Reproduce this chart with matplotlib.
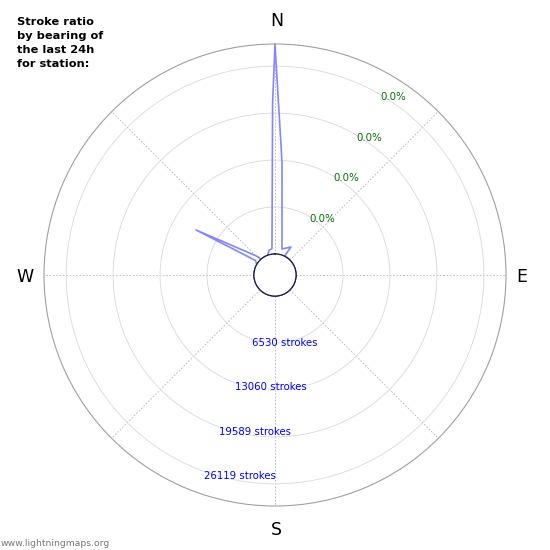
import numpy as np
import matplotlib.pyplot as plt

W = H = 550

# outline of the stroke ratio polygon, in drawing order
bearings = [40, 50, 60, 70, 80, 90, 100, 110, 120, 130, 140, 150, 160, 170,
            180, 190, 200, 210, 220, 230, 240, 250, 260, 270, 280, 290, 300,
            306.6, 299.7, 316.6, 319, 330, 340, 346.2, 353.5, 359.2,
            0, 3.6, 15.1, 29.7, 27]
strokes = [0, 0, 0, 0, 0, 0, 0, 0, 0, 0, 0, 0, 0, 0,
           0, 0, 0, 0, 0, 0, 0, 0, 0, 0, 0, 0, 0,
           460, 9720, 620, 0, 0, 0, 590, 790, 21000,
           29150, 12680, 820, 1560, 100]

r_max = 29200
ring_strokes = [6530, 13060, 19589, 26119]
ring_pct = ['0.0%', '0.0%', '0.0%', '0.0%']

title_lines = ['Stroke ratio', 'by bearing of', 'the last 24h', 'for station:']
compass = ['N', 'E', 'S', 'W']


def px(x, y):
    return x / W, 1 - y / H


fig = plt.figure(figsize=(W / 100, H / 100), dpi=100)
ax = fig.add_axes([0.08, 0.08, 0.84, 0.84], projection='polar')
ax.set_theta_zero_location('N')
ax.set_theta_direction(-1)
ax.set_ylim(0, r_max)
ax.set_rorigin(-0.1 * r_max)

# polygon outline
theta = np.deg2rad(bearings + bearings[:1])
vals = strokes + strokes[:1]
ax.plot(theta, vals, color='#8585ff', lw=1.2, zorder=2)

# inner circle
tc = np.linspace(0, 2 * np.pi, 361)
ax.plot(tc, np.zeros_like(tc), color='#1e1e46', lw=1.0, zorder=3)

# grid
ax.set_rgrids(ring_strokes, labels=[])
ax.set_thetagrids(range(0, 360, 45), labels=[])
ax.yaxis.grid(True, color='#d9d9d9', lw=0.6, ls='-')
ax.xaxis.grid(True, color='#b4b4b4', lw=0.6, ls=(0, (2, 2)))
ax.tick_params(length=0)
ax.spines['polar'].set_color('#a0a0a0')
ax.spines['polar'].set_linewidth(0.8)
ax.spines['inner'].set_color('#1e1e46')

# ring labels
pct_pos = [(322, 219), (346, 178), (369, 138), (393, 97)]
for (x, y), t in zip(pct_pos, ring_pct):
    fig.text(*px(x, y), t, color='#0a6e0a', fontsize=7.4, ha='center', va='center')

stroke_pos = [(285, 343), (271, 387), (255, 432), (240, 476)]
for (x, y), s in zip(stroke_pos, ring_strokes):
    fig.text(*px(x, y), f'{s} strokes', color='#0000ff', fontsize=7.3,
             ha='center', va='center')

# compass letters
comp_pos = [(277, 21), (522, 277), (276, 530), (25, 277)]
for (x, y), c in zip(comp_pos, compass):
    fig.text(*px(x, y), c, fontsize=12.5, ha='center', va='center')

# title
for i, line in enumerate(title_lines):
    fig.text(*px(17, 25 + 14 * i), line, fontsize=8.2, fontweight='bold',
             ha='left', va='baseline')

fig.text(*px(1, 543), 'www.lightningmaps.org', fontsize=6.7, color='#777777',
         ha='left', va='center')

fig.savefig('out.png', dpi=100)
